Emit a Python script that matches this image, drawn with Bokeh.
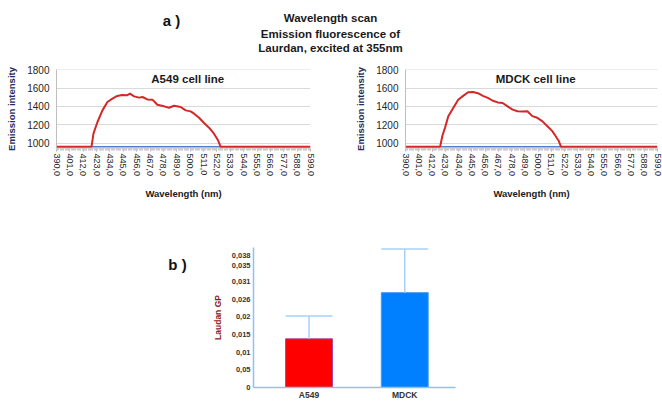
from bokeh.plotting import figure
from bokeh.layouts import column, row
from bokeh.models import Range1d, FixedTicker, CustomJSTickFormatter
from bokeh.core.properties import value
from bokeh.embed import file_html
from bokeh.resources import INLINE
import numpy as np

FONT = "Liberation Sans"

# ---------------- data ----------------
a549_wl = [390.0, 418.8, 420.4, 423.7, 427.8, 431.9, 436.0, 440.0, 444.0, 448.0, 450.5,
           453.8, 458.0, 460.7, 464.8, 468.9, 473.0, 478.5, 482.6, 486.7, 492.2, 496.3,
           500.4, 503.2, 507.3, 511.4, 515.5, 519.6, 522.9, 525.1, 599.0]
a549_int = [958, 958, 1102, 1229, 1356, 1447, 1484, 1513, 1524, 1520, 1538,
            1509, 1495, 1502, 1476, 1473, 1418, 1400, 1385, 1407, 1393, 1356,
            1345, 1320, 1276, 1218, 1167, 1102, 1029, 958, 958]
a549_base_wl = [419.0, 525.0]
a549_base_int = [958, 958]

mdck_wl = [390.0, 418.7, 420.6, 422.8, 425.5, 429.6, 433.7, 437.8, 441.9, 446.0, 450.1,
           454.2, 458.3, 462.4, 466.5, 470.6, 474.7, 478.8, 482.9, 487.0, 491.1, 495.2,
           499.3, 503.4, 507.5, 511.6, 514.3, 517.0, 519.0, 599.0]
mdck_int = [958, 958, 1079, 1168, 1293, 1382, 1471, 1514, 1554, 1557, 1543,
            1514, 1493, 1461, 1443, 1436, 1400, 1364, 1346, 1343, 1346, 1293,
            1275, 1239, 1186, 1132, 1079, 1025, 958, 958]
mdck_base_wl = [419.0, 519.0]
mdck_base_int = [958, 958]

wl_ticks = [390, 401, 412, 423, 434, 445, 456, 467, 478, 489, 500, 511, 522,
            533, 544, 555, 566, 577, 588, 599]
wl_minor = list(range(390, 600))
int_ticks = [1000, 1200, 1400, 1600, 1800]

cells = ["A549", "MDCK"]
cell_pos = [0, 1]
gp = [0.0138, 0.0269]
gp_err = [0.0065, 0.0124]
bar_colors = ["#ff0000", "#0080ff"]
bar_edges = ["#a04a98", "#4a9af0"]
gp_tick_vals = [0, 0.005, 0.010, 0.015, 0.020, 0.025, 0.030, 0.0345, 0.0375]
gp_tick_labels = ["0", "0,05", "0,01", "0,015", "0,02", "0,026", "0,031", "0,035", "0,038"]

title_lines = ["Wavelength scan", "Emission fluorescence of", "Laurdan, excited at 355nm"]

W = 662


def blank(width, height, xr, yr, top=0, bottom=0):
    p = figure(width=width, height=height, output_backend="svg", toolbar_location=None,
               x_range=xr, y_range=yr, x_axis_location=None, y_axis_location=None,
               min_border=0, min_border_top=top, min_border_bottom=bottom)
    p.grid.visible = False
    p.outline_line_color = None
    return p


# ---------------- header ----------------
header = blank(W, 58, Range1d(0, W), Range1d(58, 0))
header.text(x=[171], y=[20], text=["a )"], text_font=value(FONT), text_font_size="15px",
            text_font_style="bold", text_align="center", text_baseline="middle", text_color="#111111")
header.text(x=[330, 330, 330], y=[17, 33, 47], text=title_lines, text_font=value(FONT),
            text_font_size="11.5px", text_font_style="bold", text_align="center",
            text_baseline="middle", text_color="#1a1a1a")


# ---------------- spectra ----------------
def spectrum(width, mleft, mright, wl, inten, bwl, bint, label):
    p = figure(width=width, height=145, output_backend="svg", toolbar_location=None,
               x_range=Range1d(390, 599), y_range=Range1d(940, 1802),
               min_border_left=mleft, min_border_right=mright,
               min_border_top=11, min_border_bottom=55)
    p.outline_line_color = None
    p.xgrid.visible = False
    p.ygrid.ticker = FixedTicker(ticks=int_ticks)
    p.ygrid.grid_line_color = "#d9d9d9"
    p.ygrid.grid_line_width = 1

    yax = p.yaxis[0]
    yax.ticker = FixedTicker(ticks=int_ticks)
    yax.axis_line_color = "#bfbfbf"
    yax.major_tick_out = 0
    yax.major_tick_in = 0
    yax.minor_tick_out = 0
    yax.minor_tick_in = 0
    yax.major_tick_line_color = None
    yax.minor_tick_line_color = None
    yax.major_label_standoff = 7
    yax.major_label_text_font = FONT
    yax.major_label_text_font_size = "10px"
    yax.major_label_text_color = "#262626"
    yax.axis_label = "Emission intensity"
    yax.axis_label_text_font = FONT
    yax.axis_label_text_font_size = "9.5px"
    yax.axis_label_text_font_style = "bold"
    yax.axis_label_text_color = "#1f2d5c"
    yax.axis_label_standoff = 7

    xax = p.xaxis[0]
    xax.ticker = FixedTicker(ticks=wl_ticks, minor_ticks=wl_minor)
    xax.formatter = CustomJSTickFormatter(code="return tick.toFixed(1).replace('.', ',');")
    xax.axis_line_color = "#d9d9d9"
    xax.major_tick_out = 3
    xax.major_tick_in = 0
    xax.minor_tick_out = 2
    xax.minor_tick_in = 0
    xax.major_tick_line_color = "#b0b0b0"
    xax.minor_tick_line_color = "#c8c8c8"
    xax.major_label_orientation = "vertical"
    xax.major_label_standoff = 2
    xax.major_label_text_font = FONT
    xax.major_label_text_font_size = "9px"
    xax.major_label_text_color = "#1f1f1f"
    xax.axis_label = "Wavelength (nm)"
    xax.axis_label_text_font = FONT
    xax.axis_label_text_font_size = "9.5px"
    xax.axis_label_text_font_style = "bold"
    xax.axis_label_text_color = "#1a1a1a"
    xax.axis_label_standoff = 9

    p.line(bwl, bint, line_color="#4f7fcf", line_width=1.5)
    p.line(wl, inten, line_color="#d42828", line_width=2)
    p.text(x=[498], y=[1703], text=[label], text_font=value(FONT), text_font_size="11.5px",
           text_font_style="bold", text_align="center", text_baseline="middle",
           text_color="#1a1a1a")
    return p


left = spectrum(338, 56, 28, a549_wl, a549_int, a549_base_wl, a549_base_int, "A549 cell line")
right = spectrum(W - 338, 67, 5, mdck_wl, mdck_int, mdck_base_wl, mdck_base_int, "MDCK cell line")

# ---------------- bar chart ----------------
BH = 402 - 58 - 145
B_TOP, B_BOT = 44, 14
# panel-label strip shares the bar chart's top/bottom borders; its y range is in page pixels
bfig = blank(208, BH, Range1d(0, 208), Range1d(203 + BH - B_BOT, 203 + B_TOP), top=B_TOP, bottom=B_BOT)
bfig.text(x=[177], y=[264], text=["b )"], text_font=value(FONT), text_font_size="15px",
          text_font_style="bold", text_align="center", text_baseline="middle", text_color="#111111")

bar = figure(width=262, height=BH, output_backend="svg", toolbar_location=None,
             x_range=Range1d(-0.58, 1.53), y_range=Range1d(0, 0.0397),
             min_border_left=45, min_border_right=15, min_border_top=B_TOP, min_border_bottom=B_BOT)
bar.outline_line_color = None
bar.grid.visible = False

pos = np.array(cell_pos, dtype=float)
top = np.array(gp)
upper = top + np.array(gp_err)
half = 0.245

bar.vbar(x=pos, top=top, width=2 * half, bottom=0, fill_color=bar_colors,
         line_color=bar_edges, line_width=1)
bar.segment(x0=pos, y0=top, x1=pos, y1=upper, line_color="#a8d0f8", line_width=1.5)
bar.segment(x0=pos - half, y0=upper, x1=pos + half, y1=upper, line_color="#a8d0f8", line_width=1.5)

by = bar.yaxis[0]
by.ticker = FixedTicker(ticks=gp_tick_vals)
by.formatter = CustomJSTickFormatter(args=dict(vals=gp_tick_vals, labs=gp_tick_labels), code="""
let best = 0, d = 1e9;
for (let i = 0; i < vals.length; i++) { const e = Math.abs(vals[i] - tick); if (e < d) { d = e; best = i; } }
return labs[best];
""")
by.axis_line_color = "#8ec2f2"
by.axis_line_width = 1.5
by.major_tick_out = 0
by.major_tick_in = 0
by.minor_tick_out = 0
by.minor_tick_in = 0
by.major_tick_line_color = None
by.minor_tick_line_color = None
by.major_label_standoff = 3
by.major_label_text_font = FONT
by.major_label_text_font_size = "7.5px"
by.major_label_text_font_style = "bold"
by.major_label_text_color = "#333333"
by.axis_label = "Laudan GP"
by.axis_label_text_font = FONT
by.axis_label_text_font_size = "8.5px"
by.axis_label_text_font_style = "bold"
by.axis_label_text_color = "#8b1a1a"
by.axis_label_standoff = 6

bx = bar.xaxis[0]
bx.ticker = FixedTicker(ticks=cell_pos)
bx.formatter = CustomJSTickFormatter(args=dict(labs=cells), code="return labs[Math.round(tick)];")
bx.axis_line_color = "#8ec2f2"
bx.axis_line_width = 1.5
bx.major_tick_out = 0
bx.major_tick_in = 0
bx.minor_tick_out = 0
bx.minor_tick_in = 0
bx.major_tick_line_color = None
bx.minor_tick_line_color = None
bx.major_label_standoff = 2
bx.major_label_text_font = FONT
bx.major_label_text_font_size = "8.5px"
bx.major_label_text_font_style = "bold"
bx.major_label_text_color = "#333333"

layout = column(header, row(left, right), row(bfig, bar))

with open("out.html", "w") as f:
    f.write(file_html(layout, INLINE))
